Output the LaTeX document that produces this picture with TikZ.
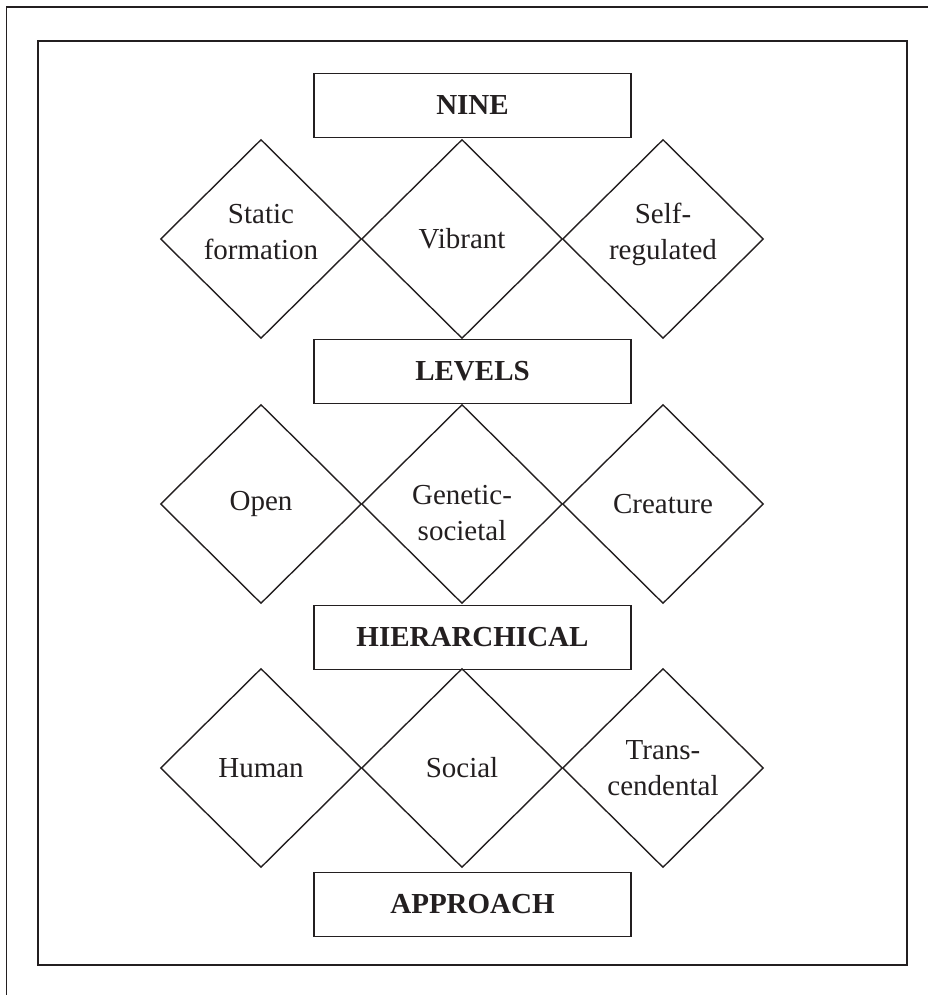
\documentclass[tikz,border=0pt]{standalone}
\usepackage{fontspec}
\setmainfont{Liberation Serif}
\usetikzlibrary{shapes.geometric}
\definecolor{ink}{HTML}{231F20}
\tikzset{
  frameline/.style={draw=ink, line width=1.8pt},
  wordbox/.style={draw=ink, line width=1.7pt, minimum width=317pt, minimum height=64pt, inner sep=0pt, font=\fontsize{29}{35}\selectfont\bfseries, text=ink},
  dia/.style={diamond, draw=ink, line width=1.4pt, minimum width=201pt, minimum height=199pt, inner sep=0pt},
  dtext/.style={align=center, font=\fontsize{29}{36}\selectfont, text=ink, inner sep=0pt}
}
\begin{document}
\begin{tikzpicture}[x=1pt,y=1pt]
\useasboundingbox (0,0) rectangle (928,995);
% outer frame (partly outside the page)
\draw[frameline] (6.5,-10) -- (6.5,988) -- (940,988);
% inner frame
\draw[frameline] (38,30) rectangle (907,954);
% boxes
\node[wordbox] (nine) at (472.5,889.5) {NINE};
\node[wordbox] (levels) at (472.5,623.5) {LEVELS};
\node[wordbox] (hier) at (472.5,357.5) {HIERARCHICAL};
\node[wordbox] (appr) at (472.5,90.5) {APPROACH};
% row 1
\node[dia] (d11) at (261,756) {};
\node[dia] (d12) at (462,756) {};
\node[dia] (d13) at (663,756) {};
\node[dtext] (t11) at ([yshift=7pt]d11.center) {Static\\formation};
\node[dtext] (t12) at (d12.center) {Vibrant};
\node[dtext] (t13) at ([yshift=5pt]d13.center) {Self-\\regulated};
% row 2
\node[dia] (d21) at (261,491) {};
\node[dia] (d22) at (462,491) {};
\node[dia] (d23) at (663,491) {};
\node[dtext] (t21) at (d21.center) {Open};
\node[dtext] (t22) at ([yshift=-9pt]d22.center) {Genetic-\\societal};
\node[dtext] (t23) at (d23.center) {Creature};
% row 3
\node[dia] (d31) at (261,227) {};
\node[dia] (d32) at (462,227) {};
\node[dia] (d33) at (663,227) {};
\node[dtext] (t31) at (d31.center) {Human};
\node[dtext] (t32) at (d32.center) {Social};
\node[dtext] (t33) at (d33.center) {Trans-\\cendental};
\end{tikzpicture}
\end{document}
